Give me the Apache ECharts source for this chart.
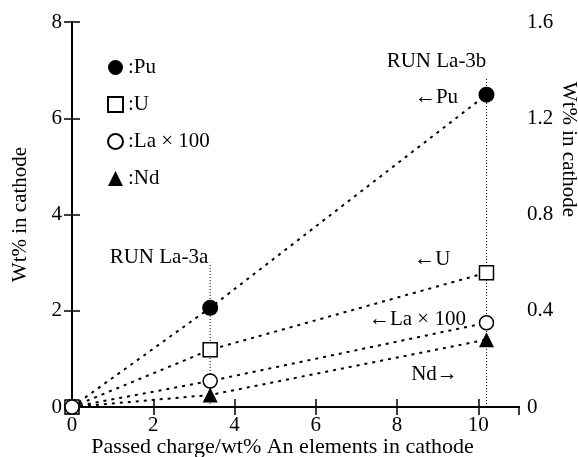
<!DOCTYPE html>
<html>
<head>
<meta charset="utf-8">
<script src="https://cdn.jsdelivr.net/npm/echarts@6/dist/echarts.min.js"></script>
<style>
  html, body { margin: 0; padding: 0; background: #fff; }
  #chart { width: 578px; height: 457px; }
</style>
</head>
<body>
<div id="chart"></div>
<script>
// data
const xVals = [0, 3.4, 10.2];
const pu = [0, 2.06, 6.49];      // left axis
const u = [0, 1.19, 2.79];       // left axis
const la100 = [0, 0.54, 1.75];   // left axis
const nd = [0, 0.05, 0.28];      // right axis
const runLines = [
  [[3.4, 0], [3.4, 3.0]],
  [[10.2, 0], [10.2, 6.86]],
];
// annotations [x, y(left axis), text]
const notes = [
  [2.14, 3.1, "RUN La-3a"],
  [8.97, 7.17, "RUN La-3b"],
  [8.97, 6.44, "\u2190Pu"],
  [8.87, 3.06, "\u2190U"],
  [8.5, 1.81, "\u2190La \u00d7 100"],
  [8.92, 0.67, "Nd\u2192"],
];

const font = "'Liberation Serif', 'Times New Roman', serif";
const fs = 21;
let chart = echarts.init(document.getElementById("chart"));

const pairs = (ys) => xVals.map((x, i) => [x, ys[i]]);

const dashLine = (ys, yIdx) => ({
  type: "line",
  yAxisIndex: yIdx,
  data: pairs(ys),
  symbol: "none",
  silent: true,
  z: 2,
  lineStyle: { color: "#000", width: 2, type: [3, 5] },
});

const marks = (name, ys, yIdx, symbol, size, filled) => ({
  type: "scatter",
  name: name,
  yAxisIndex: yIdx,
  data: pairs(ys),
  symbol: symbol,
  symbolSize: size,
  z: 5,
  itemStyle: {
    color: filled ? "#000" : "#fff",
    borderColor: "#000",
    borderWidth: filled ? 0 : 1.5,
    opacity: 1,
  },
});

let axisCommon = {
  nameMoveOverlap: false,
  axisLine: { show: true, lineStyle: { color: "#000", width: 2 } },
  axisTick: { show: true, inside: true, length: 8, lineStyle: { color: "#000", width: 1.5 } },
  splitLine: { show: false },
  axisLabel: { color: "#000", fontFamily: font, fontSize: fs },
  nameTextStyle: { color: "#000", fontFamily: font, fontSize: fs },
};

let option = {
  animation: false,
  backgroundColor: "#fff",
  grid: { left: 72, right: 59, top: 22, bottom: 50, outerBoundsMode: "none" },
  legend: {
    orient: "vertical",
    left: 107,
    top: 57,
    padding: 0,
    itemWidth: 15,
    itemHeight: 15,
    itemGap: 16,
    data: ["Pu", "U", "La \u00d7 100", "Nd"],
    formatter: ":{name}",
    textStyle: { color: "#000", fontFamily: font, fontSize: fs },
  },
  xAxis: [
    Object.assign({}, axisCommon, {
      type: "value",
      min: 0,
      max: 11,
      interval: 2,
      name: "Passed charge/wt% An elements in cathode",
      nameLocation: "middle",
      nameGap: 29,
      nameTextStyle: { color: "#000", fontFamily: font, fontSize: 22, padding: [0, 26, 0, 0] },
      axisLabel: Object.assign({}, axisCommon.axisLabel, { margin: 8, showMaxLabel: false }),
    }),
    Object.assign({}, axisCommon, {
      type: "value",
      position: "top",
      min: 0,
      max: 11,
      interval: 2,
      axisLabel: { show: false },
    }),
  ],
  yAxis: [
    Object.assign({}, axisCommon, {
      type: "value",
      min: 0,
      max: 8,
      interval: 2,
      name: "Wt% in cathode",
      nameLocation: "middle",
      nameGap: 41,
      axisLabel: Object.assign({}, axisCommon.axisLabel, { margin: 10 }),
    }),
    Object.assign({}, axisCommon, {
      type: "value",
      position: "right",
      min: 0,
      max: 1.6,
      interval: 0.4,
      name: "Wt% in cathode",
      nameLocation: "middle",
      nameRotate: -90,
      nameGap: 39,
      nameTextStyle: { color: "#000", fontFamily: font, fontSize: fs, padding: [0, 130, 0, 0] },
      axisLabel: Object.assign({}, axisCommon.axisLabel, { margin: 8 }),
    }),
  ],
  series: [
    ...runLines.map((seg) => ({
      type: "line",
      data: seg,
      symbol: "none",
      silent: true,
      z: 1,
      lineStyle: { color: "#000", width: 1, type: [1, 2] },
    })),
    dashLine(pu, 0),
    dashLine(u, 0),
    dashLine(la100, 0),
    dashLine(nd, 1),
    marks("Nd", nd, 1, "triangle", 15, true),
    marks("Pu", pu, 0, "circle", 16, true),
    marks("U", u, 0, "rect", 14, false),
    marks("La \u00d7 100", la100, 0, "circle", 14, false),
    {
      type: "scatter",
      data: notes.map((n) => ({ value: [n[0], n[1]], name: n[2] })),
      symbolSize: 0,
      silent: true,
      z: 6,
      itemStyle: { opacity: 1 },
      label: {
        show: true,
        position: "inside",
        formatter: "{b}",
        color: "#000",
        fontFamily: font,
        fontSize: fs,
      },
    },
  ],
};

option && chart.setOption(option);
</script>
</body>
</html>
